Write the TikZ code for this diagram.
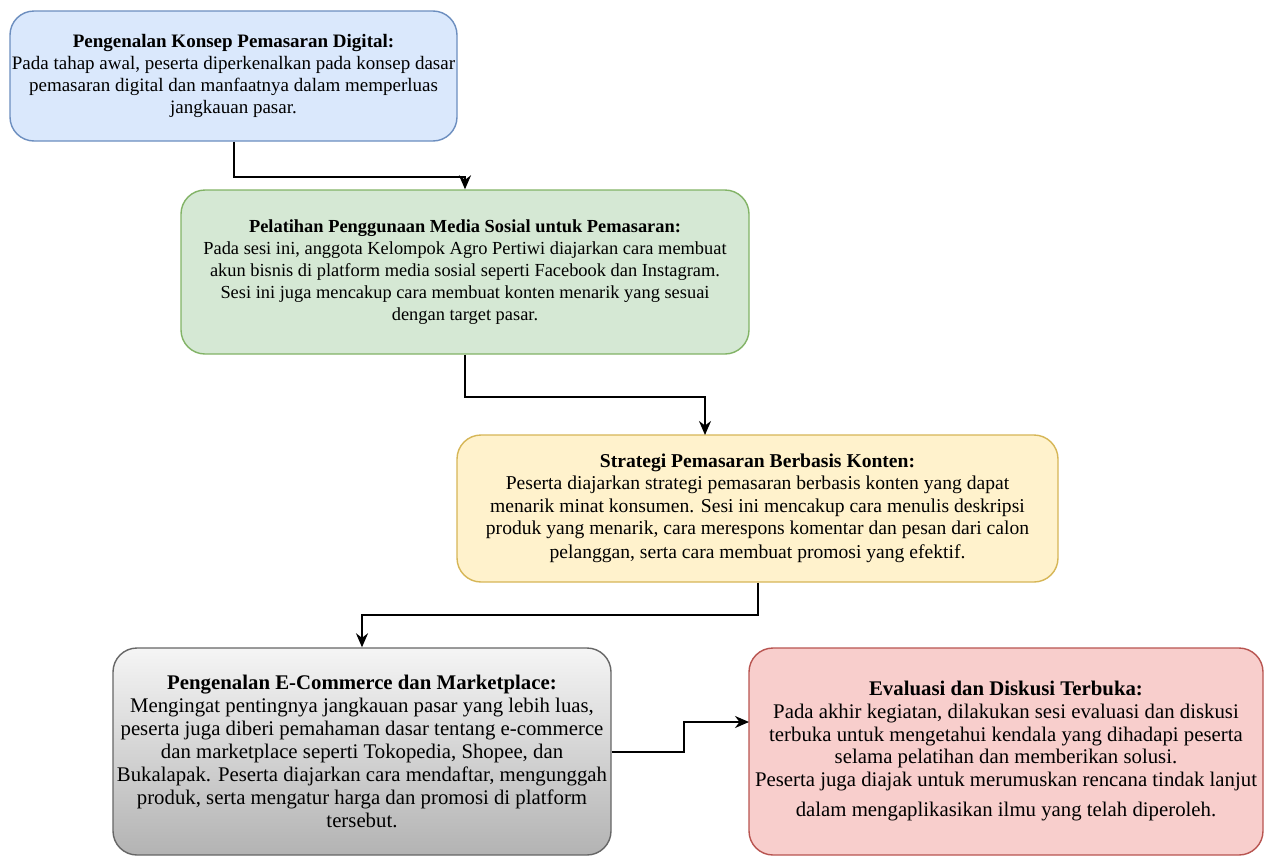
\documentclass[tikz,border=0pt]{standalone}
\usepackage{fontspec}
\setmainfont{Liberation Serif}
\usetikzlibrary{positioning}
\usetikzlibrary{arrows.meta}
\definecolor{blueF}{HTML}{DAE8FC}\definecolor{blueD}{HTML}{6C8EBF}
\definecolor{greenF}{HTML}{D5E8D4}\definecolor{greenD}{HTML}{82B366}
\definecolor{yellowF}{HTML}{FFF2CC}\definecolor{yellowD}{HTML}{D6B656}
\definecolor{grayT}{HTML}{F5F5F5}\definecolor{grayB}{HTML}{B3B3B3}\definecolor{grayD}{HTML}{666666}
\definecolor{redF}{HTML}{F8CECC}\definecolor{redD}{HTML}{B85450}
\tikzstyle{stage} = [rectangle,rounded corners=12pt,line width=0.7pt,align=center,inner sep=0pt,font=\fontsize{9}{11}\selectfont]
\tikzset{>={Stealth[length=7pt,width=6pt]}}

\begin{document}
\begin{tikzpicture}[x=0.5pt,y=-0.5pt]
  \useasboundingbox (0,0) rectangle (1265,857);
  \node [stage,font=\fontsize{9.5}{11}\selectfont,fill=blueF,draw=blueD,minimum width=223.5pt,minimum height=65pt] (n1) at (233.5,76)
    {\textbf{Pengenalan Konsep Pemasaran Digital:}\\
     Pada tahap awal, peserta diperkenalkan pada konsep dasar\\
     pemasaran digital dan manfaatnya dalam memperluas\\
     jangkauan pasar.};
  \node [stage,font=\fontsize{9.2}{11}\selectfont,fill=greenF,draw=greenD,minimum width=284pt,minimum height=82pt] (n2) at (465,272)
    {\textbf{Pelatihan Penggunaan Media Sosial untuk Pemasaran:}\\
     Pada sesi ini, anggota Kelompok Agro Pertiwi diajarkan cara membuat\\
     akun bisnis di platform media sosial seperti Facebook dan Instagram.\\
     Sesi ini juga mencakup cara membuat konten menarik yang sesuai\\
     dengan target pasar.};
  \node [stage,font=\fontsize{9.8}{11.2}\selectfont,fill=yellowF,draw=yellowD,minimum width=300.5pt,minimum height=73.5pt] (n3) at (757.5,508.5)
    {\textbf{Strategi Pemasaran Berbasis Konten:}\\
     Peserta diajarkan strategi pemasaran berbasis konten yang dapat\\
     menarik minat konsumen. Sesi ini mencakup cara menulis deskripsi\\
     produk yang menarik, cara merespons komentar dan pesan dari calon\\[1pt]
     pelanggan, serta cara membuat promosi yang efektif.};
  \node [stage,font=\fontsize{10.4}{11.5}\selectfont,top color=grayT,bottom color=grayB,draw=grayD,minimum width=249pt,minimum height=103.5pt] (n4) at (362,751.5)
    {\textbf{Pengenalan E-Commerce dan Marketplace:}\\
     Mengingat pentingnya jangkauan pasar yang lebih luas,\\
     peserta juga diberi pemahaman dasar tentang e-commerce\\
     dan marketplace seperti Tokopedia, Shopee, dan\\
     Bukalapak. Peserta diajarkan cara mendaftar, mengunggah\\
     produk, serta mengatur harga dan promosi di platform\\
     tersebut.};
  \node [stage,font=\fontsize{10.4}{11.3}\selectfont,fill=redF,draw=redD,minimum width=257pt,minimum height=103.5pt] (n5) at (1006,751.5)
    {\textbf{Evaluasi dan Diskusi Terbuka:}\\
     Pada akhir kegiatan, dilakukan sesi evaluasi dan diskusi\\
     terbuka untuk mengetahui kendala yang dihadapi peserta\\
     selama pelatihan dan memberikan solusi.\\
     Peserta juga diajak untuk merumuskan rencana tindak lanjut\\[4pt]
     dalam mengaplikasikan ilmu yang telah diperoleh.};

  \coordinate (t3) at (705,435);
  \coordinate (t5) at (749,722);
  \draw [->,line width=1pt] (n1.south) -- ++(0,35) -| (n2.north);
  \draw [->,line width=1pt] (n2.south) -- ++(0,42) -| (t3);
  \draw [->,line width=1pt] (n3.south) -- ++(0,32) -| (n4.north);
  \draw [->,line width=1pt] (n4.east) -- ++(72,0) |- (t5);
\end{tikzpicture}
\end{document}
